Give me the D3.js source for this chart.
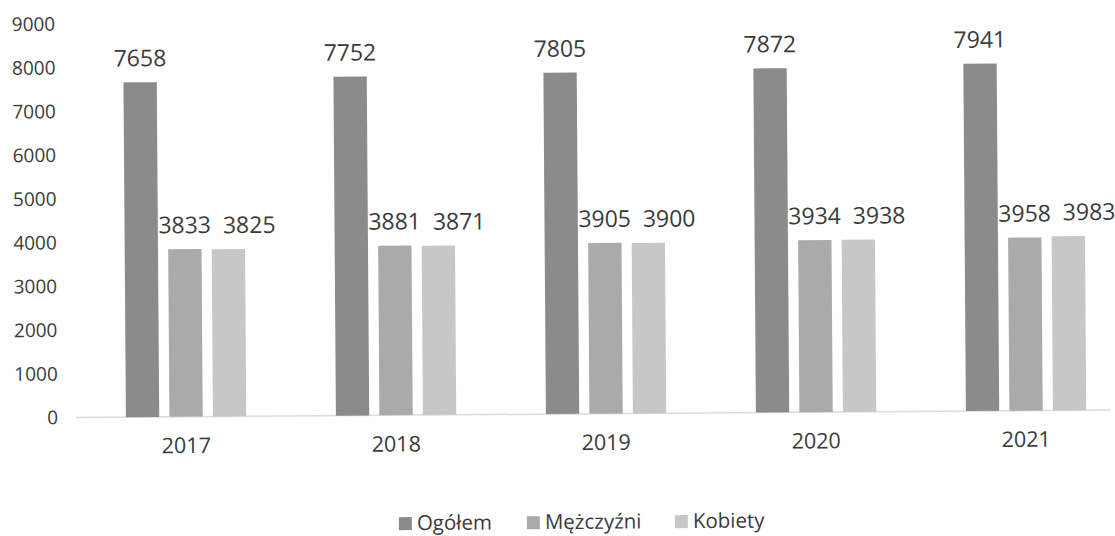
<!DOCTYPE html>
<html><head><meta charset="utf-8">
<script src="https://cdn.jsdelivr.net/npm/d3@7"></script>
<style>
body{margin:0;background:#fff;}
text{font-family:"Open Sans",sans-serif;fill:#3a3a3a;}
</style></head>
<body><svg id="c" width="1115" height="536"></svg>
<script>
const years = ["2017","2018","2019","2020","2021"];
const seriesNames = ["Ogółem","Mężczyźni","Kobiety"];
const ogolem = [7658,7752,7805,7872,7941];
const mezczyzni = [3833,3881,3905,3934,3958];
const kobiety = [3825,3871,3900,3938,3983];
const yTicks = [0,1000,2000,3000,4000,5000,6000,7000,8000,9000];
const colors = ["#8b8b8b","#aaaaaa","#c7c7c7"];
const labelDx = [0,0,21];

const series = [ogolem, mezczyzni, kobiety];
const svg = d3.select("#c");
const g = svg.append("g").attr("transform","rotate(-0.42,560,268)");

const x0 = d3.scaleBand().domain(years).range([80,1130]).paddingInner(0.33).paddingOuter(0.165);
const x1 = d3.scaleBand().domain(seriesNames).range([0,x0.bandwidth()]).padding(0.234);
const y = d3.scaleLinear().domain([0,9000]).range([414,20.5]);

// baseline
g.append("line").attr("x1",75).attr("x2",1110).attr("y1",y(0)).attr("y2",y(0))
  .attr("stroke","#dcdcdc").attr("stroke-width",1.5);

// y axis labels
const yAxis = d3.axisLeft(y).tickValues(yTicks).tickSize(0).tickPadding(0).tickFormat(d3.format("d"));
const ya = g.append("g").attr("transform","translate(57,0)").call(yAxis);
ya.select(".domain").remove();
ya.selectAll("text").style("font-size","19px").style("font-family","Open Sans").attr("fill","#3a3a3a");

// x axis labels
const xAxis = d3.axisBottom(x0).tickSize(0).tickPadding(0);
const xa = g.append("g").attr("transform",`translate(0,${y(0)+21})`).call(xAxis);
xa.select(".domain").remove();
xa.selectAll("text").style("font-size","21.5px").style("font-family","Open Sans").attr("fill","#3a3a3a");

// bars
seriesNames.forEach((s,si)=>{
  const sg = g.append("g");
  sg.selectAll("rect").data(years).join("rect")
    .attr("x",d=>x0(d)+x1(s))
    .attr("width",x1.bandwidth())
    .attr("y",(d,i)=>y(series[si][i]))
    .attr("height",(d,i)=>y(0)-y(series[si][i]))
    .attr("fill",colors[si]);
  sg.selectAll("text").data(years).join("text")
    .attr("x",d=>x0(d)+x1(s)+x1.bandwidth()/2+labelDx[si])
    .attr("y",(d,i)=>y(series[si][i])-16)
    .attr("text-anchor","middle")
    .style("font-size","23px")
    .text((d,i)=>series[si][i]);
});

// legend
const legendX = [397,525,673];
const lg = g.append("g");
seriesNames.forEach((s,i)=>{
  lg.append("rect").attr("x",legendX[i]).attr("y",516).attr("width",13).attr("height",13).attr("fill",colors[i]);
  lg.append("text").attr("x",legendX[i]+18).attr("y",529).style("font-size","20.5px").text(s);
});
</script></body></html>
